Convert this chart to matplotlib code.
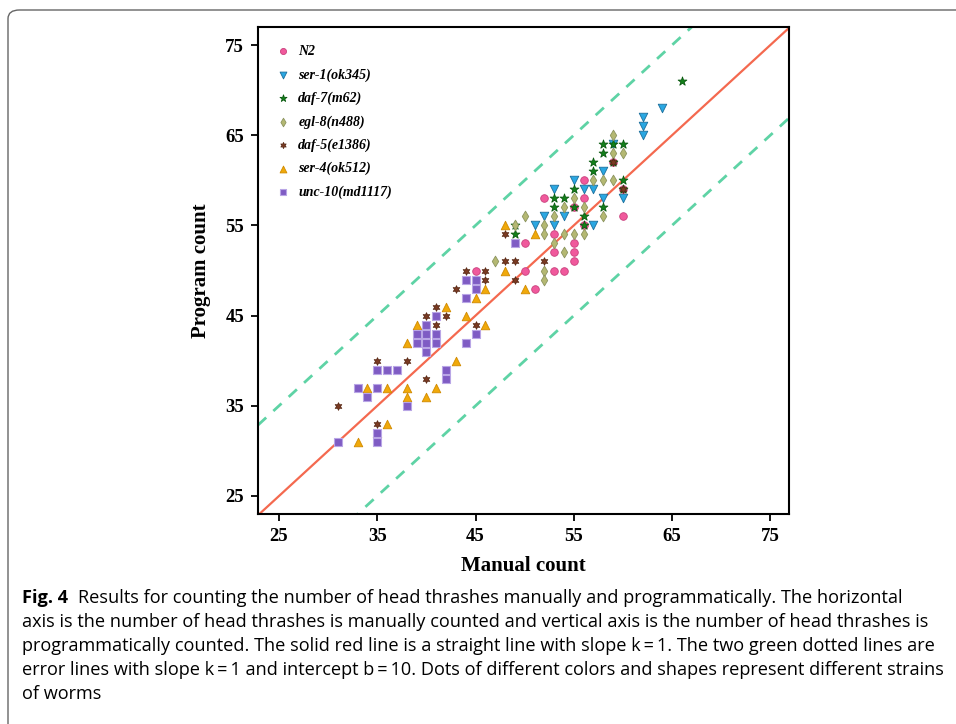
import numpy as np
import matplotlib
matplotlib.use("Agg")
import matplotlib.pyplot as plt
from matplotlib.patches import FancyBboxPatch

# manual count (x) vs program count (y) for each strain
n2_x = [45, 50, 50, 51, 52, 53, 53, 53, 54, 55, 55, 55, 56, 56, 60, 59, 60, 55, 56]
n2_y = [50, 53, 50, 48, 58, 54, 52, 50, 50, 53, 52, 51, 60, 58, 56, 62, 59, 57, 55]

ser1_x = [51, 52, 53, 53, 54, 55, 56, 57, 57, 58, 58, 60, 62, 62, 62, 64, 59]
ser1_y = [55, 56, 55, 59, 56, 60, 59, 59, 55, 61, 58, 58, 67, 66, 65, 68, 64]

daf7_x = [49, 49, 53, 53, 54, 55, 56, 56, 57, 57, 58, 58, 59, 60, 59, 60, 60, 58, 55, 66]
daf7_y = [54, 55, 58, 57, 58, 59, 56, 55, 62, 61, 63, 64, 64, 64, 62, 60, 59, 57, 57, 71]

egl8_x = [47, 49, 50, 52, 52, 52, 52, 53, 53, 54, 54, 54, 55, 55, 56, 56, 57, 58, 59, 58, 59, 60, 59]
egl8_y = [51, 55, 56, 55, 54, 50, 49, 56, 53, 57, 54, 52, 58, 54, 57, 54, 60, 60, 60, 56, 63, 63, 65]

daf5_x = [31, 35, 35, 38, 40, 40, 41, 41, 42, 43, 44, 45, 46, 46, 48, 48, 49, 49, 52, 60, 59]
daf5_y = [35, 40, 33, 40, 38, 45, 46, 44, 45, 48, 50, 44, 50, 49, 54, 51, 51, 49, 51, 59, 62]

ser4_x = [33, 34, 36, 36, 38, 38, 40, 41, 38, 39, 40, 43, 46, 42, 44, 45, 46, 48, 50, 48, 51, 35]
ser4_y = [31, 37, 37, 33, 37, 36, 36, 37, 42, 44, 43, 40, 44, 46, 45, 47, 48, 50, 48, 55, 54, 32]

unc10_x = [31, 33, 34, 35, 35, 35, 35, 36, 37, 38, 39, 39, 40, 40, 40, 40, 41, 41, 41, 42, 42,
           44, 44, 44, 45, 45, 45, 49]
unc10_y = [31, 37, 36, 39, 37, 32, 31, 39, 39, 35, 43, 42, 44, 43, 42, 41, 45, 43, 42, 39, 38,
           49, 47, 42, 49, 48, 43, 53]

ticks = [25, 35, 45, 55, 65, 75]

caption_lines = [
    "Results for counting the number of head thrashes manually and programmatically. The horizontal",
    "axis is the number of head thrashes is manually counted and vertical axis is the number of head thrashes is",
    "programmatically counted. The solid red line is a straight line with slope k\u2009=\u20091. The two green dotted lines are",
    "error lines with slope k\u2009=\u20091 and intercept b\u2009=\u200910. Dots of different colors and shapes represent different strains",
    "of worms",
]

serif = "Liberation Serif"

fig = plt.figure(figsize=(9.56, 7.24), dpi=100)

# rounded frame around the figure
frame = FancyBboxPatch((8 / 956, -0.1), 1.2, 1.1 - 10 / 724,
                       boxstyle="round,pad=0,rounding_size=0.012",
                       transform=fig.transFigure, fill=False,
                       edgecolor="#666666", linewidth=1.0)
fig.patches.append(frame)

ax = fig.add_axes([258 / 956, 1 - 514 / 724, 531 / 956, 487 / 724])
xlim = (22.86, 76.9)
ylim = (23.0, 77.0)

xx = np.array(xlim)
ax.plot(xx, xx, color="#f4694f", linewidth=1.6, zorder=1)
ax.plot(xx, xx + 10, color="#5ed3a5", linewidth=2, linestyle=(0, (4, 3.5)), zorder=1)
ax.plot(xx, xx - 10, color="#5ed3a5", linewidth=2, linestyle=(0, (4, 3.5)), zorder=1)

ms = 30
ax.scatter(n2_x, n2_y, s=ms, marker="o", color="#f0599c", edgecolor="#c93f7c",
           linewidth=0.6, label="N2", zorder=3)
ax.scatter(ser1_x, ser1_y, s=ms + 8, marker="v", color="#2aa7e2", edgecolor="#1d6f9c",
           linewidth=0.6, label="ser-1(ok345)", zorder=3)
ax.scatter(daf7_x, daf7_y, s=ms + 14, marker="*", color="#12821a", edgecolor="#0a5a10",
           linewidth=0.6, label="daf-7(m62)", zorder=3)
ax.scatter(egl8_x, egl8_y, s=ms, marker="d", color="#b4b872", edgecolor="#8c9460",
           linewidth=0.6, label="egl-8(n488)", zorder=3)
ax.scatter(daf5_x, daf5_y, s=ms, marker=(6, 1, 0), color="#7b3a22", edgecolor="#5a2a16",
           linewidth=0.6, label="daf-5(e1386)", zorder=3)
ax.scatter(ser4_x, ser4_y, s=ms + 8, marker="^", color="#f0a90a", edgecolor="#d08a00",
           linewidth=0.6, label="ser-4(ok512)", zorder=3)
ax.scatter(unc10_x, unc10_y, s=ms - 4, marker="s", color="#7f5cc4", edgecolor="#b9a6e6",
           linewidth=0.8, label="unc-10(md1117)", zorder=3)

ax.set_xlim(xlim)
ax.set_ylim(ylim)
ax.set_xticks(ticks)
ax.set_yticks(ticks)
ax.set_xticklabels([str(t) for t in ticks], fontfamily=serif, fontweight="bold", fontsize=13.5)
ax.set_yticklabels([str(t) for t in ticks], fontfamily=serif, fontweight="bold", fontsize=13.5)
ax.tick_params(direction="out", length=5, width=1.3, pad=5)
for sp in ax.spines.values():
    sp.set_linewidth(1.5)

ax.set_xlabel("Manual count", fontfamily=serif, fontweight="bold", fontsize=15, labelpad=8)
ax.set_ylabel("Program count", fontfamily=serif, fontweight="bold", fontsize=15, labelpad=10)

leg = ax.legend(loc="upper left", frameon=False, handlelength=1.0, handletextpad=0.6,
                labelspacing=0.72, borderaxespad=0.9, scatterpoints=1, markerscale=0.8,
                prop={"family": serif, "weight": "bold", "style": "italic", "size": 10})

# caption, shrunk so the longest line fits the same width as the original
cap_font = ["Open Sans", "DejaVu Sans"]
y0 = 1 - 598 / 724
fs = 13.5
left_px = 22
fig.text(left_px / 956, y0, "Fig. 4", fontsize=fs, fontweight="bold", family=cap_font,
         va="center", ha="left")
texts = []
for i, line in enumerate(caption_lines):
    x = 82 / 956 if i == 0 else left_px / 956
    texts.append(fig.text(x, y0 - i * 24 / 724, line, fontsize=fs, family=cap_font,
                          va="center", ha="left"))
fig.canvas.draw()
r = fig.canvas.get_renderer()
w = texts[3].get_window_extent(r).width
scale = (948 - left_px) / w
for t in texts:
    t.set_fontsize(fs * scale)
fig.texts[0].set_fontsize(fs * scale)
fig.canvas.draw()
fig_w = fig.texts[0].get_window_extent(r).width
texts[0].set_x((left_px + fig_w + 10) / 956)

fig.savefig("out.png", dpi=100)
